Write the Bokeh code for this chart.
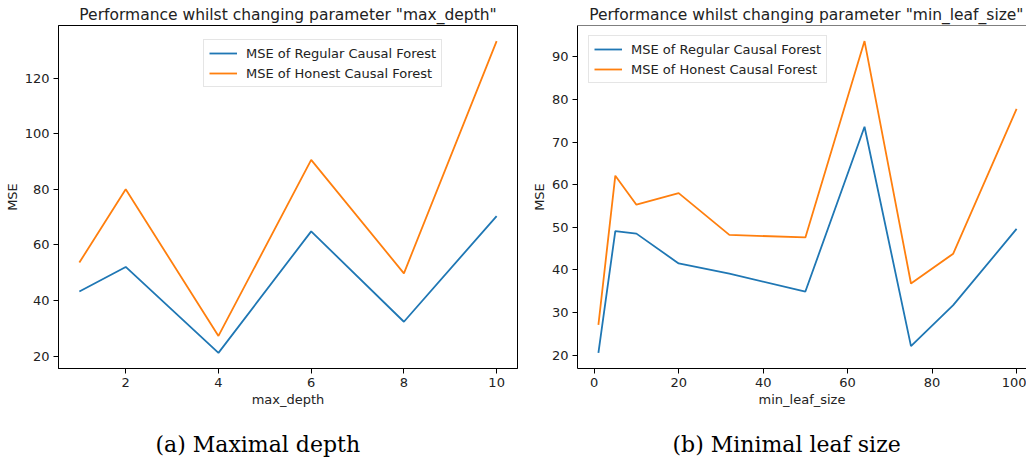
from bokeh.plotting import figure
from bokeh.layouts import row
from bokeh.models import Legend, LegendItem, FixedTicker, Range1d, Span, Title
from bokeh.embed import file_html
from bokeh.resources import INLINE

# ---- data ----
depth_x = [1, 2, 4, 6, 8, 10]
depth_regular = [43.3, 52.1, 21.2, 64.9, 32.4, 70.4]
depth_honest = [53.7, 80.0, 27.3, 90.6, 49.8, 133.3]
depth_xticks = [2, 4, 6, 8, 10]
depth_yticks = [20, 40, 60, 80, 100, 120]

leaf_x = [1, 5, 10, 20, 32, 50, 64, 75, 85, 100]
leaf_regular = [20.5, 49.1, 48.5, 41.5, 39.1, 34.9, 73.6, 22.1, 31.7, 49.6]
leaf_honest = [27.1, 62.1, 55.3, 58.0, 48.2, 47.6, 93.7, 36.8, 43.8, 77.8]
leaf_xticks = [0, 20, 40, 60, 80, 100]
leaf_yticks = [20, 30, 40, 50, 60, 70, 80, 90]

labels = ["MSE of Regular Causal Forest", "MSE of Honest Causal Forest"]
colors = ["#1f77b4", "#ff7f0e"]
FONT = "DejaVu Sans"


def padded(vals, frac=0.05):
    lo, hi = min(vals), max(vals)
    d = (hi - lo) * frac
    return lo - d, hi + d


def make(xs, s1, s2, xticks, yticks, title, xlabel, caption, xr, yr,
         frame_w, bl, br, legend_loc, title_align, title_offset, cap_offset, outline):
    p = figure(frame_width=frame_w, frame_height=343, min_border_left=bl, min_border_right=br,
               min_border_top=25, min_border_bottom=90, output_backend="svg",
               toolbar_location=None, x_range=Range1d(*xr), y_range=Range1d(*yr))
    p.title.text = title
    p.title.text_font = FONT
    p.title.text_font_size = "15.5px"
    p.title.text_font_style = "normal"
    p.title.text_color = "#222222"
    p.title.align = title_align
    p.title.offset = title_offset
    p.title.standoff = 4
    p.grid.visible = False
    p.outline_line_color = "black" if outline else None
    p.outline_line_alpha = 1
    p.outline_line_width = 1
    for ax in (p.xaxis[0], p.yaxis[0]):
        ax.axis_line_color = "black"
        ax.major_tick_line_color = "black"
        ax.major_tick_out = 5
        ax.major_tick_in = 0
        ax.minor_tick_line_color = None
        ax.major_label_standoff = 4
        ax.major_label_text_font = FONT
        ax.major_label_text_font_size = "13px"
        ax.major_label_text_color = "#222222"
        ax.axis_label_text_font = FONT
        ax.axis_label_text_font_size = "13px"
        ax.axis_label_text_font_style = "normal"
        ax.axis_label_text_color = "#222222"
        ax.axis_label_standoff = 2
    p.xaxis.ticker = FixedTicker(ticks=xticks)
    p.yaxis.ticker = FixedTicker(ticks=yticks)
    p.xaxis.axis_label = xlabel
    p.yaxis.axis_label = "MSE"
    if not outline:
        p.add_layout(Span(location=yr[1], dimension="width", line_color="black", line_width=1))

    r1 = p.line(xs, s1, line_color=colors[0], line_width=1.8)
    r2 = p.line(xs, s2, line_color=colors[1], line_width=1.8)
    leg = Legend(items=[LegendItem(label=labels[0], renderers=[r1]),
                        LegendItem(label=labels[1], renderers=[r2])],
                 location=legend_loc, label_text_font=FONT, label_text_font_size="13px",
                 label_text_color="#222222",
                 glyph_width=28, glyph_height=16, label_height=16, label_standoff=9,
                 padding=5, spacing=4, margin=0, border_line_color="#cccccc",
                 border_line_width=1, background_fill_alpha=0.8)
    p.add_layout(leg, "center")

    spacer = Title(text=" ", text_font_size="14px", standoff=0)
    p.add_layout(spacer, "below")
    cap = Title(text=caption, text_font="DejaVu Serif", text_font_size="22px",
                text_font_style="normal", text_color="black", align="left",
                offset=cap_offset, standoff=4)
    p.add_layout(cap, "below")
    return p


left = make(depth_x, depth_regular, depth_honest, depth_xticks, depth_yticks,
            'Performance whilst changing parameter "max_depth"', "max_depth", "(a) Maximal depth",
            padded(depth_x), padded(depth_regular + depth_honest),
            459, 58, 10, (145, 281), "center", 0, 97, True)

lx0, lx1 = padded(leaf_x)
leaf_xr = (lx0, lx0 + (lx1 - lx0) * 449 / 460)
right = make(leaf_x, leaf_regular, leaf_honest, leaf_xticks, leaf_yticks,
             'Performance whilst changing parameter "min_leaf_size"', "min_leaf_size",
             "(b) Minimal leaf size",
             leaf_xr, padded(leaf_regular + leaf_honest),
             449, 50, 0, (11, 285), "right", 3, 95, False)

layout = row(left, right, spacing=0)
open("out.html", "w").write(file_html(layout, INLINE))
